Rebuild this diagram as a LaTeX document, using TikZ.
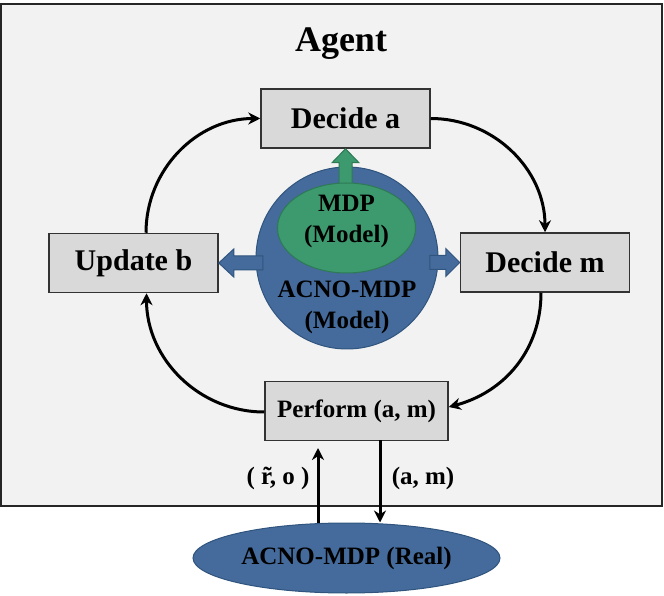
\documentclass[tikz,border=0pt]{standalone}
\usepackage{fontspec}
\setmainfont{Liberation Serif}
\usetikzlibrary{shapes.geometric,arrows.meta,calc}
\definecolor{agentbg}{HTML}{F2F2F2}
\definecolor{boxfill}{HTML}{D9D9D9}
\definecolor{acnoblue}{HTML}{446B9B}
\definecolor{acnoedge}{HTML}{30547E}
\definecolor{mdpgreen}{HTML}{3D9A6E}
\definecolor{mdpedge}{HTML}{2D7A55}
\begin{document}
\begin{tikzpicture}[x=1pt,y=1pt,
  actbox/.style={draw=black!80, fill=boxfill, line width=1.5pt, minimum width=169pt,
    minimum height=59pt, inner sep=0pt, font=\fontsize{30}{36}\selectfont\bfseries},
  flow/.style={line width=3pt, -{Stealth[length=12pt,width=12pt]}},
  bluearrow/.style={fill=acnoblue, draw=acnoedge, line width=1pt},
  greenarrow/.style={fill=mdpgreen, draw=mdpedge, line width=1pt},
  lbl/.style={font=\fontsize{25}{31}\selectfont\bfseries, align=center, inner sep=0pt}]
  \useasboundingbox (0,0) rectangle (664,595);
  \draw[fill=agentbg, line width=1.5pt, draw=black!85] (1,89) rectangle (662,591);
  \node[font=\fontsize{36}{44}\selectfont\bfseries, anchor=base] (agent) at (341,543) {Agent};
  % the four steps
  \node[actbox] (decA) at (345.5,476.5) {Decide a};
  \node[actbox] (upd) at (133.5,332) {Update b};
  \node[actbox] (decM) at (545,332.5) {Decide m};
  \node[actbox, minimum width=183pt, font=\fontsize{25}{30}\selectfont\bfseries] (perf) at (356.5,184) {Perform (a, m)};
  % models
  \node[circle, fill=acnoblue, draw=acnoedge, line width=1pt, minimum size=182pt, inner sep=0pt] (acno) at (347,337) {};
  \filldraw[bluearrow, shift={(upd.east)}] (0,0) -- (15,14) -- (15,7) -- (44,7) -- (44,-7) -- (15,-7) -- (15,-14) -- cycle;
  \filldraw[bluearrow, shift={(decM.west)}] (0,0) -- (-14,14) -- (-14,7) -- (-30,7) -- (-30,-7) -- (-14,-7) -- (-14,-14) -- cycle;
  \filldraw[greenarrow, shift={(decA.south)}] (0,0) -- (-13.5,-14) -- (-6.5,-14) -- (-6.5,-42) -- (6.5,-42) -- (6.5,-14) -- (13.5,-14) -- cycle;
  \node[ellipse, fill=mdpgreen, draw=mdpedge, line width=1pt, minimum width=138pt, minimum height=90pt, inner sep=0pt] (mdp) at (346.5,367) {};
  \node[lbl] (mdptxt) at (346.5,374) {MDP\\(Model)};
  \node[lbl] (acnotxt) at (347,288) {ACNO-MDP\\(Model)};
  % loop
  \draw[flow] ([xshift=12.5pt]upd.north) to[out=90,in=180] (decA.west);
  \draw[flow] (decA.east) to[out=0,in=90] (decM.north);
  \draw[flow] ([xshift=-4pt]decM.south) to[out=-90,in=15] ([yshift=4pt]perf.east);
  \draw[flow] ([yshift=-1pt]perf.west) to[out=180,in=-90] ([xshift=13pt]upd.south);
  % environment
  \node[ellipse, fill=acnoblue, draw=acnoedge, line width=1pt, minimum width=307pt, minimum height=70pt, inner sep=0pt,
    font=\fontsize{25}{30}\selectfont\bfseries] (real) at (346.5,37) {ACNO-MDP (Real)};
  \coordinate (obs) at (318,147);
  \coordinate (act) at (380,155);
  \draw[flow] (real.north -| obs) -- (obs);
  \draw[flow] (act) -- (act |- real.north);
  \node[lbl] (obstxt) at (278,117) {( \~{r}, o )};
  \node[lbl] (acttxt) at (423,117) {(a, m)};
\end{tikzpicture}
\end{document}
